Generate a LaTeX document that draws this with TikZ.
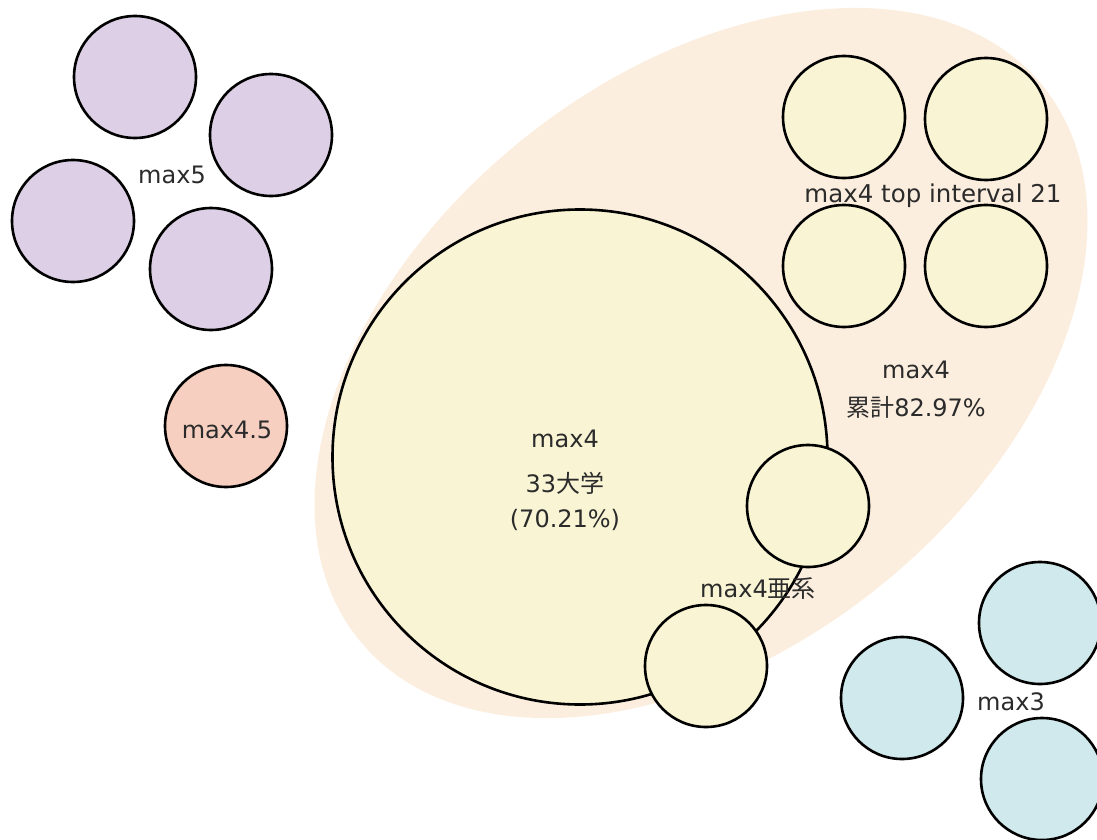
\documentclass[tikz,border=0pt]{standalone}
\usepackage{fontspec}
\setmainfont{DejaVu Sans}
\newfontfamily\jp{Noto Sans CJK JP}
\usetikzlibrary{shapes.geometric}
\definecolor{purplec}{HTML}{DDD0E6}
\definecolor{salmonc}{HTML}{F6CFC0}
\definecolor{tanc}{HTML}{FCEEDF}
\definecolor{yellowc}{HTML}{F9F4D4}
\definecolor{cyanc}{HTML}{D0E9EC}
\definecolor{textc}{HTML}{2B2B2B}
\tikzset{
  bub/.style={circle, draw=black, line width=2.6bp, minimum size=122bp, inner sep=0pt},
  pbub/.style={bub, fill=purplec},
  ybub/.style={bub, fill=yellowc},
  cbub/.style={bub, fill=cyanc},
  lab/.style={anchor=base, text=textc, inner sep=0pt, font=\fontsize{24bp}{28bp}\selectfont}
}
\begin{document}
\begin{tikzpicture}[x=1bp, y=-1bp]
\useasboundingbox (0,0) rectangle (1097,840);
% background region
\node[ellipse, fill=tanc, minimum width=880bp, minimum height=572bp, inner sep=0pt, rotate=39] (region) at (701,363) {};
% max5 group
\node[pbub] (p1) at (135,77) {};
\node[pbub] (p2) at (271,135) {};
\node[pbub] (p3) at (73,221) {};
\node[pbub] (p4) at (211,269) {};
\node[lab] (l5) at (172,183) {max5};
% max4.5
\node[bub, fill=salmonc] (s1) at (226,426) {};
\node[lab] (l45) at (227,438) {max4.5};
% big max4
\node[bub, fill=yellowc, minimum size=495bp] (big) at (580,457) {};
\node[lab] (b1) at (565,447) {max4};
\node[lab] (b2) at (565,492) {33{\jp 大学}};
\node[lab] (b3) at (565,527) {(70.21\%)};
% top interval group
\node[ybub] (y1) at (844,117) {};
\node[ybub] (y2) at (986,119) {};
\node[ybub] (y3) at (844,266) {};
\node[ybub] (y4) at (986,266) {};
\node[lab, font=\fontsize{24.5bp}{28bp}\selectfont] (lt) at (933,202) {max4 top interval 21};
% cumulative label
\node[lab] (c1) at (916,378) {max4};
\node[lab] (c2) at (916,416) {{\jp 累計}82.97\%};
% sub-series
\node[ybub] (y5) at (808,506) {};
\node[ybub] (y6) at (706,666) {};
\node[lab] (la) at (758,597) {max4{\jp 亜系}};
% max3 group
\node[cbub] (q1) at (1040,623) {};
\node[cbub] (q2) at (902,698) {};
\node[cbub] (q3) at (1042,779) {};
\node[lab] (l3) at (1011,710) {max3};
\end{tikzpicture}
\end{document}
